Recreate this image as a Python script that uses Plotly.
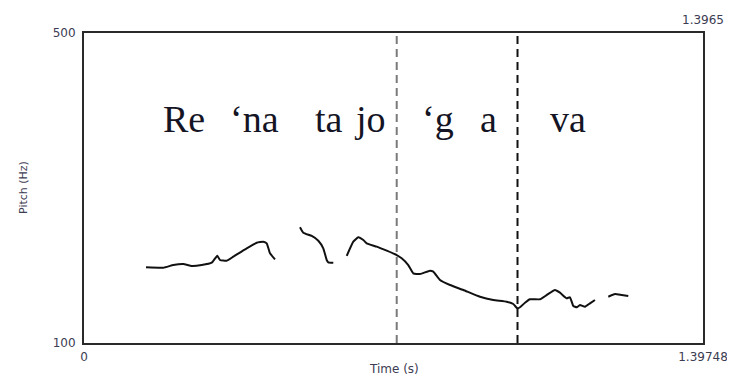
import plotly.graph_objects as go

# ---- data ----
t_seg1 = [0.1400, 0.1790, 0.2016, 0.2242, 0.2431, 0.2657, 0.2883, 0.3009, 0.3070,
          0.3222, 0.3371, 0.3673, 0.3899, 0.4048, 0.4125, 0.4199, 0.4312]
f_seg1 = [197.7, 197.2, 200.6, 201.9, 199.4, 200.6, 203.6, 212.6, 207.1,
          206.2, 211.4, 222.2, 229.4, 230.7, 228.6, 215.7, 208.0]

t_seg2 = [0.4876, 0.4951, 0.5141, 0.5290, 0.5402, 0.5479, 0.5515, 0.5628]
f_seg2 = [249.3, 242.3, 238.1, 232.0, 222.2, 207.1, 204.1, 203.6]

t_seg3 = [0.5931, 0.6080, 0.6193, 0.6306, 0.6382, 0.6608, 0.6834, 0.7060, 0.7172,
          0.7321, 0.7434, 0.7586, 0.7811, 0.7886, 0.8037, 0.8263, 0.8563, 0.8940,
          0.9240, 0.9543, 0.9692, 0.9782, 0.9843, 0.9956, 1.0069, 1.0295, 1.0446,
          1.0633, 1.0746, 1.0897, 1.0972, 1.1047, 1.1123, 1.1198, 1.1311, 1.1423,
          1.1536]
f_seg3 = [212.3, 230.7, 236.4, 232.9, 228.6, 224.3, 219.1, 213.5, 209.3,
          200.6, 189.9, 189.0, 193.3, 192.0, 181.3, 174.8, 168.4, 159.7,
          155.5, 153.3, 150.3, 144.8, 146.1, 152.0, 156.4, 156.4, 161.9,
          168.4, 164.9, 157.7, 159.0, 147.7, 146.1, 149.0, 146.8, 151.2,
          155.5]

t_seg4 = [1.1837, 1.1988, 1.2139, 1.2288]
f_seg4 = [159.7, 163.2, 161.9, 160.6]

boundaries = [0.7060, 0.9787]
boundary_colors = ["#7a7a7a", "#111111"]

syllables = ["Re", "\u2018na", "ta", "jo", "\u2018g", "a", "va"]
syllable_times = [0.1740, 0.3251, 0.5170, 0.6051, 0.7586, 0.8895, 1.0475]
syllable_level = 389

t_min, t_max = 0, 1.39748
f_min, f_max = 100, 500
x_tick_text = ["0", "1.39748"]
y_tick_text = ["100", "500"]
top_right_label = "1.3965"

# ---- figure ----
fig = go.Figure()
times = t_seg1 + [None] + t_seg2 + [None] + t_seg3 + [None] + t_seg4
freqs = f_seg1 + [None] + f_seg2 + [None] + f_seg3 + [None] + f_seg4
fig.add_trace(go.Scatter(x=times, y=freqs, mode="lines", connectgaps=False,
                         line=dict(color="#111111", width=2, shape="spline", smoothing=0.4),
                         hoverinfo="skip", showlegend=False))

for b, c in zip(boundaries, boundary_colors):
    fig.add_shape(type="line", xref="x", yref="paper", x0=b, x1=b, y0=0, y1=1,
                  line=dict(color=c, width=2, dash="8px,5px"), layer="below")

for s, t in zip(syllables, syllable_times):
    fig.add_annotation(x=t, y=syllable_level, xref="x", yref="y", text=s,
                       showarrow=False, xanchor="left", yanchor="middle",
                       font=dict(family="Liberation Serif", size=38, color="#141424"))

label_font = dict(family="DejaVu Sans", size=12, color="#3c3c52")

fig.add_annotation(x=t_max, y=1, xref="x", yref="paper", text=top_right_label,
                   showarrow=False, xanchor="center", yanchor="bottom", yshift=4,
                   font=label_font)
fig.add_annotation(x=0.5, y=0, xref="paper", yref="paper", text="Time (s)",
                   showarrow=False, xanchor="center", yanchor="top", yshift=-17,
                   font=label_font)
fig.add_annotation(x=0, y=0.5, xref="paper", yref="paper", text="Pitch (Hz)",
                   showarrow=False, xanchor="center", yanchor="middle", xshift=-61,
                   textangle=-90, font=dict(family="DejaVu Sans", size=11, color="#3c3c52"))

fig.update_xaxes(range=[t_min, t_max], tickvals=[t_min, t_max], ticktext=x_tick_text,
                 showline=True, mirror=True, linecolor="#2a2a2a", linewidth=2,
                 showgrid=False, zeroline=False, ticks="", tickfont=label_font,
                 ticklabelstandoff=2, automargin=False)
fig.update_yaxes(range=[f_min, f_max], tickvals=[f_min, f_max], ticktext=y_tick_text,
                 showline=True, mirror=True, linecolor="#2a2a2a", linewidth=2,
                 showgrid=False, zeroline=False, ticks="", tickfont=label_font,
                 ticklabelstandoff=4, automargin=False)

# the page body adds an 8px offset, so the figure is sized to fit the window exactly
fig.update_layout(width=727, height=368, margin=dict(l=76, r=32, t=25, b=33),
                  plot_bgcolor="white", paper_bgcolor="white", showlegend=False)

fig.write_html("out.html")
